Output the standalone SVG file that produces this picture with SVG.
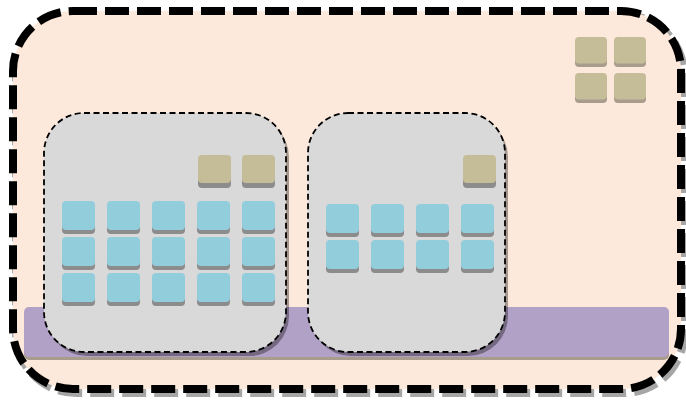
<svg xmlns="http://www.w3.org/2000/svg" width="686" height="401" viewBox="0 0 686 401">
<defs>
<style>
.outer{fill:#fde9db;stroke:#000;stroke-width:8;stroke-dasharray:24 8}
.outersh{fill:none;stroke:#a6a6a6;stroke-width:8;stroke-dasharray:24 8}
.box{fill:#d9d9d9;stroke:#000;stroke-width:1.8;stroke-dasharray:6 3.5}
.boxsh{fill:#000;opacity:0.35}
.bar{fill:#b2a1c7}
.barsh{fill:#a89c8c}
.b{fill:#92cddc}
.t{fill:#c4bd97}
.sh{fill:#8c8c8c}
.tsh{fill:#a89c8c}
</style>
<g id="blue"><rect class="sh" x="0" y="4" width="33" height="29" rx="4"/><rect class="b" x="0" y="0" width="33" height="29" rx="4"/></g>
<g id="tan"><rect class="sh" x="0" y="4" width="33" height="29" rx="4"/><rect class="t" x="0" y="0" width="33" height="28" rx="4"/></g>
<g id="tan2"><rect class="tsh" x="0" y="3" width="32" height="27" rx="4"/><rect class="t" x="0" y="0" width="32" height="26.5" rx="4"/></g>
</defs>
<g id="outer-container">
<rect class="outersh" x="16" y="15" width="668" height="378" rx="60"/>
<rect class="outer" x="13" y="11" width="668" height="378" rx="60"/>
</g>
<g id="top-right-group">
<use href="#tan2" x="575" y="37"/><use href="#tan2" x="614" y="37"/>
<use href="#tan2" x="575" y="73"/><use href="#tan2" x="614" y="73"/>
</g>
<g id="bar">
<rect class="barsh" x="24" y="310" width="645" height="50" rx="5"/>
<rect class="bar" x="24" y="307" width="645" height="50" rx="5"/>
</g>
<g id="box1">
<rect class="boxsh" x="47" y="117" width="242" height="239" rx="40"/>
<rect class="box" x="44" y="113" width="242" height="239" rx="40"/>
<use href="#tan" x="198" y="155"/><use href="#tan" x="242" y="155"/>
<use href="#blue" x="62" y="201"/><use href="#blue" x="107" y="201"/><use href="#blue" x="152" y="201"/><use href="#blue" x="197" y="201"/><use href="#blue" x="242" y="201"/>
<use href="#blue" x="62" y="237"/><use href="#blue" x="107" y="237"/><use href="#blue" x="152" y="237"/><use href="#blue" x="197" y="237"/><use href="#blue" x="242" y="237"/>
<use href="#blue" x="62" y="273"/><use href="#blue" x="107" y="273"/><use href="#blue" x="152" y="273"/><use href="#blue" x="197" y="273"/><use href="#blue" x="242" y="273"/>
</g>
<g id="box2">
<rect class="boxsh" x="311" y="117" width="197" height="239" rx="40"/>
<rect class="box" x="308" y="113" width="197" height="239" rx="40"/>
<use href="#tan" x="463" y="155"/>
<use href="#blue" x="326" y="204"/><use href="#blue" x="371" y="204"/><use href="#blue" x="416" y="204"/><use href="#blue" x="461" y="204"/>
<use href="#blue" x="326" y="240"/><use href="#blue" x="371" y="240"/><use href="#blue" x="416" y="240"/><use href="#blue" x="461" y="240"/>
</g>
<g id="connectors"/>
</svg>
